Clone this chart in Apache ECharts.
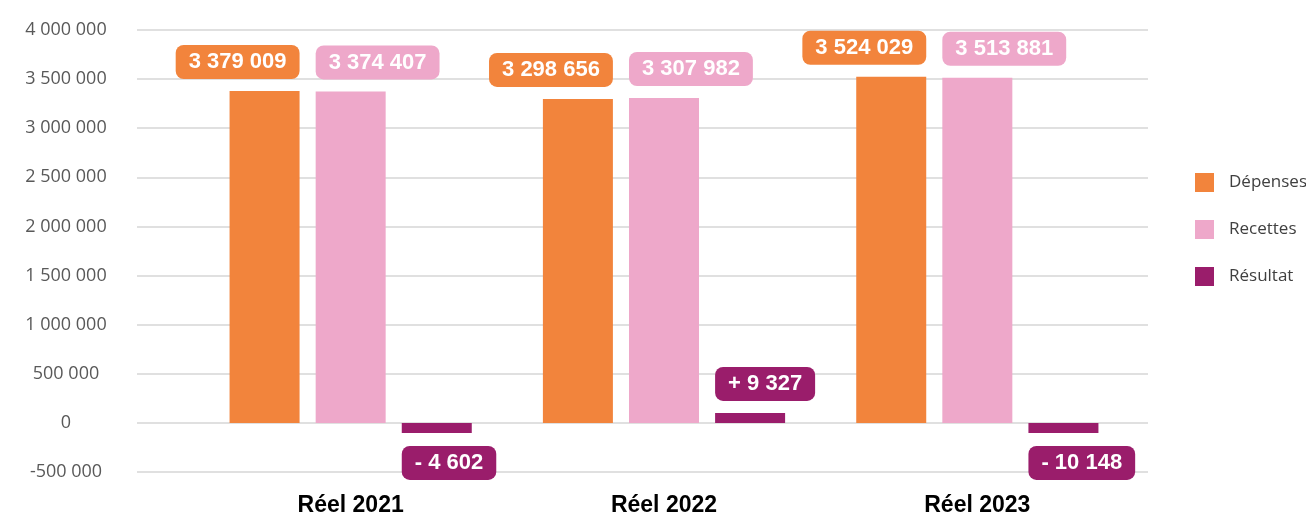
<!DOCTYPE html>
<html>
<head>
<meta charset="utf-8">
<script src="https://cdn.jsdelivr.net/npm/echarts@6/dist/echarts.min.js"></script>
<style>
  html, body { margin: 0; padding: 0; background: #fff; }
  #chart { width: 1306px; height: 513px; }
</style>
</head>
<body>
<div id="chart"></div>
<script>
// données
const categories = ['Réel 2021', 'Réel 2022', 'Réel 2023'];
const depenses = [3379009, 3298656, 3524029];
const recettes = [3374407, 3307982, 3513881];
const resultat = [-4602, 9327, -10148];
const yTicks = { min: -500000, max: 4000000, step: 500000 };

const ORANGE = '#F2843C';
const PINK = '#EEA8CA';
const PURPLE = '#9A1D6B';

// 3 379 009
const fmt = v => String(Math.abs(v)).replace(/\B(?=(\d{3})+(?!\d))/g, ' ');

const boxLabel = (color, align) => ({
  show: true,
  position: 'top',
  distance: 12,
  align: align,
  offset: [align === 'right' ? 35 : -35, 0],
  color: '#fff',
  fontFamily: 'Liberation Sans, Arial, sans-serif',
  fontWeight: 'bold',
  fontSize: 22,
  backgroundColor: color,
  borderRadius: 8,
  padding: [6, 13],
});

const chart = echarts.init(document.getElementById('chart'));
chart.setOption({
  animation: false,
  legend: {
    orient: 'vertical',
    left: 1195,
    top: 173,
    padding: 0,
    itemWidth: 19,
    itemHeight: 19,
    itemGap: 28,
    icon: 'rect',
    textStyle: { color: '#404040', fontSize: 17, fontFamily: 'Open Sans', padding: [0, 0, 0, 10] },
    data: ['Dépenses', 'Recettes', 'Résultat'],
  },
  grid: [
    { left: 137, right: 158, top: 30, bottom: 41, outerBoundsMode: 'none' },
    { left: 194, width: 940, top: 30, bottom: 41, outerBoundsMode: 'none' },
  ],
  xAxis: [
    { gridIndex: 0, type: 'category', data: categories, show: false },
    {
      gridIndex: 1, type: 'category', data: categories,
      axisLine: { show: false }, axisTick: { show: false },
      axisLabel: { margin: 22, color: '#000', fontSize: 23, fontWeight: 'bold', fontFamily: 'Liberation Sans, Arial, sans-serif' },
    },
  ],
  yAxis: [
    {
      gridIndex: 0, type: 'value', min: yTicks.min, max: yTicks.max, interval: yTicks.step,
      axisLine: { show: false }, axisTick: { show: false },
      splitLine: { lineStyle: { color: '#d6d6d6', width: 1.5 } },
      axisLabel: {
        margin: 71, align: 'center', color: '#595959', fontSize: 18, fontFamily: 'Open Sans',
        padding: [0, 0, 14, 0],
        formatter: v => (v < 0 ? '-' : '') + fmt(v),
      },
    },
    { gridIndex: 1, type: 'value', min: yTicks.min, max: yTicks.max, interval: yTicks.step, show: false, splitLine: { show: false } },
  ],
  series: [
    {
      name: 'Dépenses', type: 'bar', xAxisIndex: 1, yAxisIndex: 1,
      data: depenses, barWidth: 70, barGap: '23%',
      itemStyle: { color: ORANGE },
      label: Object.assign(boxLabel(ORANGE, 'right'), { formatter: p => fmt(p.value) }),
    },
    {
      name: 'Recettes', type: 'bar', xAxisIndex: 1, yAxisIndex: 1,
      data: recettes, barWidth: 70, barGap: '23%',
      itemStyle: { color: PINK },
      label: Object.assign(boxLabel(PINK, 'left'), { formatter: p => fmt(p.value) }),
    },
    {
      name: 'Résultat', type: 'bar', xAxisIndex: 1, yAxisIndex: 1,
      data: resultat.map(v => ({
        value: v,
        label: v < 0 ? { position: 'bottom', verticalAlign: 'top', distance: 13 } : {},
      })),
      barWidth: 70, barGap: '23%', barMinHeight: 10,
      itemStyle: { color: PURPLE },
      label: Object.assign(boxLabel(PURPLE, 'left'), { formatter: p => (p.value < 0 ? '- ' : '+ ') + fmt(p.value) }),
    },
  ],
});
</script>
</body>
</html>
